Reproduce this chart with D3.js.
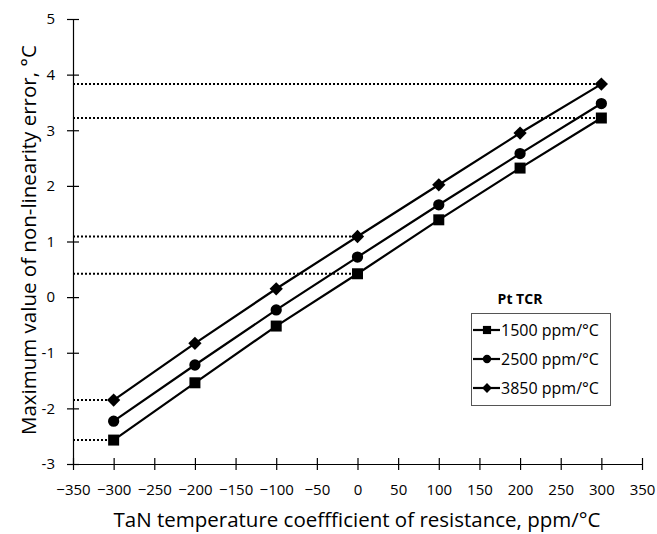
<!DOCTYPE html>
<html>
<head>
<meta charset="utf-8">
<script src="https://cdn.jsdelivr.net/npm/d3@7"></script>
<style>
  body { margin: 0; background: #fff; }
  svg text { font-family: "Open Sans", sans-serif; fill: #000; }
</style>
</head>
<body>
<div id="chart"></div>
<script>
const width = 657,
  height = 534;

// data
const tcrX = [-300, -200, -100, 0, 100, 200, 300];
const series = ['1500 ppm/°C', '2500 ppm/°C', '3850 ppm/°C'];
const vals1500 = [-2.57, -1.54, -0.52, 0.42, 1.39, 2.32, 3.22];
const vals2500 = [-2.23, -1.22, -0.23, 0.72, 1.66, 2.58, 3.48];
const vals3850 = [-1.85, -0.83, 0.15, 1.09, 2.02, 2.95, 3.83];
const xTicks = [-350, -300, -250, -200, -150, -100, -50, 0, 50, 100, 150, 200, 250, 300, 350];
const yTicks = [-3, -2, -1, 0, 1, 2, 3, 4, 5];
// dotted guide lines: [series index, point index]
const guides = [[2, 6], [0, 6], [2, 3], [0, 3], [2, 0], [0, 0]];

const allVals = [vals1500, vals2500, vals3850];
// diamond = square turned 45 degrees
const symbols = [d3.symbolSquare, d3.symbolCircle, d3.symbolSquare];
const symRot = [0, 0, 45];
const symSize = [121, 100, 88];

const margin = {left: 73, right: 15, top: 19, bottom: 70};

const x = d3.scaleLinear().domain([-350, 350]).range([margin.left, width - margin.right]);
const y = d3.scaleLinear().domain([-3, 5]).range([height - margin.bottom, margin.top]);

let svg = d3.select('#chart').append('svg')
  .attr('width', width)
  .attr('height', height);

// guides
svg.append('g')
  .selectAll('line')
  .data(guides)
  .enter().append('line')
    .attr('x1', x(-350))
    .attr('x2', d => x(tcrX[d[1]]))
    .attr('y1', d => y(allVals[d[0]][d[1]]))
    .attr('y2', d => y(allVals[d[0]][d[1]]))
    .attr('stroke', '#000')
    .attr('stroke-width', 2)
    .attr('stroke-dasharray', '2,2');

// axes
let xAxis = svg.append('g')
  .attr('transform', 'translate(0,' + y(-3) + ')')
  .call(d3.axisBottom(x).tickValues(xTicks).tickSize(6).tickPadding(14).tickSizeOuter(0));
xAxis.selectAll('.tick line').attr('y1', -6);
xAxis.selectAll('text').style('font-size', '15px');

let yAxis = svg.append('g')
  .attr('transform', 'translate(' + x(-350) + ',0)')
  .call(d3.axisLeft(y).tickValues(yTicks).tickSize(6).tickPadding(12).tickSizeOuter(0)
    .tickFormat(d => d < 0 ? '-' + Math.abs(d) : d));
yAxis.selectAll('.tick line').attr('x1', 6);
yAxis.selectAll('text').style('font-size', '15px');
svg.selectAll('.domain, .tick line').attr('stroke', '#000').attr('stroke-width', 1.2);

// series
const line = d3.line()
  .x((d, i) => x(tcrX[i]))
  .y(d => y(d));

let groups = svg.append('g')
  .selectAll('g')
  .data(allVals)
  .enter().append('g');

groups.append('path')
  .attr('d', d => line(d))
  .attr('fill', 'none')
  .attr('stroke', '#000')
  .attr('stroke-width', 2.2);

groups.each(function(vals, s) {
  d3.select(this).selectAll('path.mark')
    .data(vals)
    .enter().append('path')
      .attr('class', 'mark')
      .attr('transform', (d, i) => 'translate(' + x(tcrX[i]) + ',' + y(d) + ') rotate(' + symRot[s] + ')')
      .attr('d', d3.symbol().type(symbols[s]).size(symSize[s]))
      .attr('fill', '#000');
});

// axis titles
svg.append('text')
  .attr('x', 357)
  .attr('y', 527)
  .attr('text-anchor', 'middle')
  .style('font-size', '20.5px')
  .text('TaN temperature coeffficient of resistance, ppm/°C');

svg.append('text')
  .attr('transform', 'translate(36,240) rotate(-90)')
  .attr('text-anchor', 'middle')
  .style('font-size', '20.5px')
  .text('Maximum value of non-linearity error, °C');

// legend
svg.append('text')
  .attr('x', 520)
  .attr('y', 304)
  .attr('text-anchor', 'middle')
  .style('font-size', '14px')
  .style('font-weight', 'bold')
  .text('Pt TCR');

let legend = svg.append('g');
legend.append('rect')
  .attr('x', 471.5).attr('y', 313.5)
  .attr('width', 139).attr('height', 92)
  .attr('fill', '#fff')
  .attr('stroke', '#555');

let items = legend.selectAll('g')
  .data(series)
  .enter().append('g')
    .attr('transform', (d, i) => 'translate(473,' + (330 + i * 29) + ')');
items.append('line')
  .attr('x1', 0).attr('x2', 27)
  .attr('stroke', '#000').attr('stroke-width', 2.2);
items.append('path')
  .attr('transform', (d, i) => 'translate(14,0) rotate(' + symRot[i] + ')')
  .attr('d', (d, i) => d3.symbol().type(symbols[i]).size(symSize[i] * 0.55)())
  .attr('fill', '#000');
items.append('text')
  .attr('x', 28)
  .attr('dy', '0.36em')
  .style('font-size', '16px')
  .text(d => d);
</script>
</body>
</html>
